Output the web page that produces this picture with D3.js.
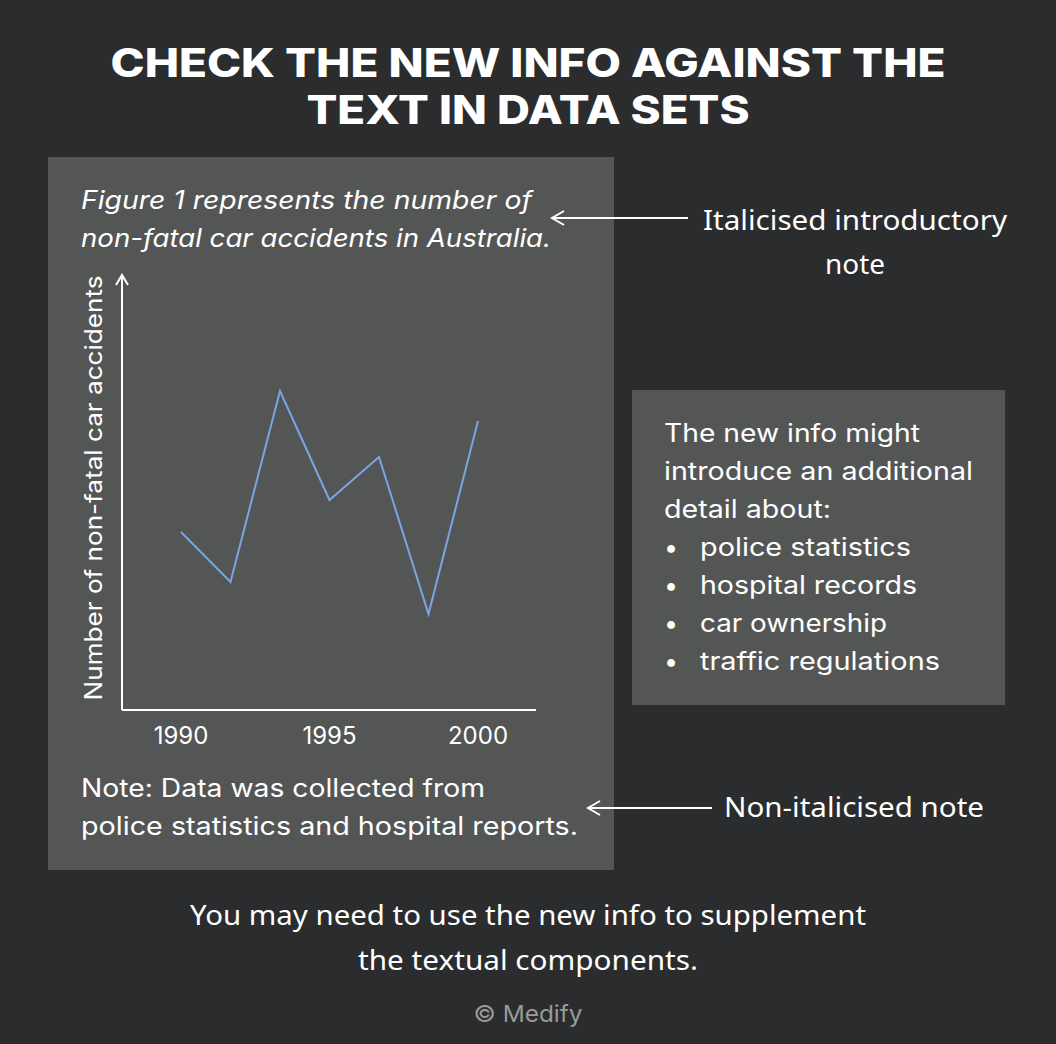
<!DOCTYPE html>
<html><head><meta charset="utf-8">
<script src="https://cdn.jsdelivr.net/npm/d3@7"></script>
<style>body{margin:0;background:#2b2c2e}</style>
</head><body><div id="chart"></div>
<script>
// data (arbitrary units, index steps along the x axis)
const steps = [0, 1, 2, 3, 4, 5, 6];
const accidents = [178, 128, 319, 210, 253, 96, 289];
const tickSteps = [0, 3, 6];
const tickLabels = ["1990", "1995", "2000"];
const bullets = ["police statistics", "hospital records", "car ownership", "traffic regulations"];
const bulletWidths = [211, 217, 187, 240];

const width = 1056, height = 1044;
const svg = d3.select("#chart").append("svg").attr("width", width).attr("height", height);
svg.append("rect").attr("width", width).attr("height", height).attr("fill", "#2b2c2e");

const sans = "Inter, 'Noto Sans', sans-serif";
const hand = "'Noto Sans', sans-serif";

// text helper, stretched to the width seen in the reference
function txt(t, xx, yy, size, len, opts = {}) {
    const el = svg.append("text").attr("x", xx).attr("y", yy).attr("fill", opts.fill || "white")
        .attr("font-family", opts.family || sans).attr("font-size", size)
        .attr("text-anchor", opts.anchor || "start").text(t);
    if (opts.weight) el.attr("font-weight", opts.weight);
    if (opts.italic) el.attr("font-style", "italic");
    if (len) el.attr("textLength", len).attr("lengthAdjust", "spacingAndGlyphs");
    return el;
}

// title
txt("CHECK THE NEW INFO AGAINST THE", 528, 77, 39, 835, { anchor: "middle", weight: 800 });
txt("TEXT IN DATA SETS", 528, 124, 39, 443, { anchor: "middle", weight: 800 });

// panels
svg.append("rect").attr("x", 48).attr("y", 157).attr("width", 566).attr("height", 713).attr("fill", "#545656");
svg.append("rect").attr("x", 632).attr("y", 390).attr("width", 373).attr("height", 315).attr("fill", "#545656");

// intro note
txt("Figure 1 represents the number of", 81, 209, 25, 451, { italic: true });
txt("non-fatal car accidents in Australia.", 81, 247, 25, 470, { italic: true });

// chart
const x = d3.scaleLinear().domain([0, 6]).range([181, 478]);
const y = d3.scaleLinear().domain([0, 435]).range([710, 275]);

const axisG = svg.append("g").attr("stroke", "white").attr("stroke-width", 2).attr("fill", "none");
axisG.append("path").attr("d", `M122,${y(0)}V${y(435)}`);
axisG.append("path").attr("d", `M116,${y(435) + 10}L122,${y(435)}L128,${y(435) + 10}`);
axisG.append("path").attr("d", `M122,${y(0)}H536`);

tickSteps.forEach((d, i) => txt(tickLabels[i], x(d), 744, 24, null, { anchor: "middle" }));

txt("Number of non-fatal car accidents", 0, 0, 24, 425, { anchor: "middle" })
    .attr("x", null).attr("y", null).attr("transform", "translate(102,488) rotate(-90)");

const line = d3.line().x(d => x(d)).y((d, i) => y(accidents[i]));
svg.append("path").datum(steps).attr("d", line).attr("fill", "none")
    .attr("stroke", "#7aa4e4").attr("stroke-width", 2);

// bottom note
txt("Note: Data was collected from", 81, 797, 25, 404);
txt("police statistics and hospital reports.", 81, 835, 25, 497);

// right box
txt("The new info might", 664, 442, 25, 256);
txt("introduce an additional", 664, 480, 25, 309);
txt("detail about:", 664, 518, 25, 167);
bullets.forEach((t, i) => {
    txt("•", 664, 556 + i * 38, 25);
    txt(t, 700, 556 + i * 38, 25, bulletWidths[i]);
});

// annotations with arrows
function arrow(x1, x2, yy) {
    svg.append("path").attr("d", `M${x1},${yy}H${x2}M${x2 + 12},${yy - 7}L${x2},${yy}L${x2 + 12},${yy + 7}`)
        .attr("stroke", "white").attr("stroke-width", 2).attr("fill", "none");
}
arrow(688, 552, 218);
txt("Italicised introductory", 855, 230, 27, 304, { anchor: "middle", family: hand });
txt("note", 855, 274, 27, 60, { anchor: "middle", family: hand });
arrow(712, 588, 808);
txt("Non-italicised note", 724, 817, 27, 260, { family: hand });

txt("You may need to use the new info to supplement", 528, 925, 27, 676, { anchor: "middle", family: hand });
txt("the textual components.", 528, 970, 27, 340, { anchor: "middle", family: hand });
txt("© Medify", 528, 1022, 23, 109, { anchor: "middle", fill: "#9a9a9a" });
</script></body></html>
